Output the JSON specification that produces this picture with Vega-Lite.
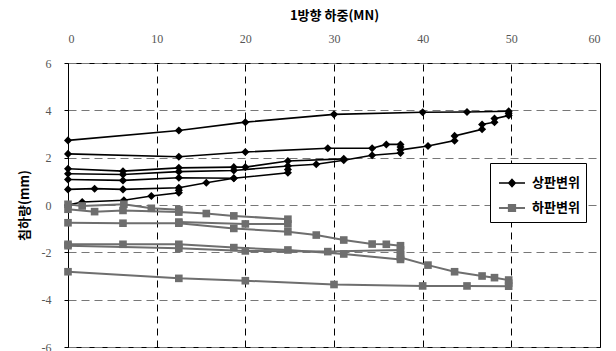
{
  "$schema": "https://vega.github.io/schema/vega-lite/v6.json",
  "autosize": "none",
  "width": 532,
  "height": 284,
  "padding": {"left": 68, "top": 63, "right": 16, "bottom": 4},
  "background": "white",
  "config": {
    "view": {"stroke": "black", "strokeWidth": 1},
    "axis": {"domainColor": "black", "tickColor": "black", "tickSize": 4}
  },
  "data": {"values": [
    {"s":"상판변위","g":"U1","i":1,"x":0,"y":0},
    {"s":"상판변위","g":"U1","i":2,"x":1.6,"y":0.13},
    {"s":"상판변위","g":"U1","i":3,"x":6.3,"y":0.2},
    {"s":"상판변위","g":"U1","i":4,"x":9.4,"y":0.38},
    {"s":"상판변위","g":"U1","i":5,"x":12.5,"y":0.52},
    {"s":"상판변위","g":"U1","i":6,"x":12.5,"y":0.62},
    {"s":"상판변위","g":"U2","i":7,"x":0,"y":0.66},
    {"s":"상판변위","g":"U2","i":8,"x":3.0,"y":0.69},
    {"s":"상판변위","g":"U2","i":9,"x":6.2,"y":0.66},
    {"s":"상판변위","g":"U2","i":10,"x":12.5,"y":0.73},
    {"s":"상판변위","g":"U2","i":11,"x":15.6,"y":0.94},
    {"s":"상판변위","g":"U2","i":12,"x":18.7,"y":1.13},
    {"s":"상판변위","g":"U2","i":13,"x":24.8,"y":1.36},
    {"s":"상판변위","g":"U2","i":14,"x":24.8,"y":1.5},
    {"s":"상판변위","g":"U3","i":15,"x":0,"y":1.08},
    {"s":"상판변위","g":"U3","i":16,"x":6.2,"y":1.04},
    {"s":"상판변위","g":"U3","i":17,"x":12.5,"y":1.15},
    {"s":"상판변위","g":"U3","i":18,"x":18.7,"y":1.13},
    {"s":"상판변위","g":"U4","i":19,"x":0,"y":1.32},
    {"s":"상판변위","g":"U4","i":20,"x":6.2,"y":1.29},
    {"s":"상판변위","g":"U4","i":21,"x":12.5,"y":1.41},
    {"s":"상판변위","g":"U4","i":22,"x":18.7,"y":1.46},
    {"s":"상판변위","g":"U4","i":23,"x":24.8,"y":1.65},
    {"s":"상판변위","g":"U4","i":24,"x":28.0,"y":1.72},
    {"s":"상판변위","g":"U4","i":25,"x":31.1,"y":1.89},
    {"s":"상판변위","g":"U4","i":26,"x":34.3,"y":2.1},
    {"s":"상판변위","g":"U4","i":27,"x":37.5,"y":2.2},
    {"s":"상판변위","g":"U5","i":28,"x":0,"y":1.53},
    {"s":"상판변위","g":"U5","i":29,"x":6.2,"y":1.43},
    {"s":"상판변위","g":"U5","i":30,"x":12.5,"y":1.57},
    {"s":"상판변위","g":"U5","i":31,"x":18.7,"y":1.6},
    {"s":"상판변위","g":"U5","i":32,"x":20,"y":1.6},
    {"s":"상판변위","g":"U5","i":33,"x":24.8,"y":1.86},
    {"s":"상판변위","g":"U5","i":34,"x":31.1,"y":1.95},
    {"s":"상판변위","g":"U6","i":35,"x":0,"y":2.16},
    {"s":"상판변위","g":"U6","i":36,"x":12.5,"y":2.04},
    {"s":"상판변위","g":"U6","i":37,"x":20,"y":2.24},
    {"s":"상판변위","g":"U6","i":38,"x":29.3,"y":2.4},
    {"s":"상판변위","g":"U6","i":39,"x":34.3,"y":2.4},
    {"s":"상판변위","g":"U6","i":40,"x":35.9,"y":2.56},
    {"s":"상판변위","g":"U6","i":41,"x":37.5,"y":2.56},
    {"s":"상판변위","g":"U6","i":42,"x":37.5,"y":2.45},
    {"s":"상판변위","g":"U7","i":43,"x":37.5,"y":2.33},
    {"s":"상판변위","g":"U7","i":44,"x":40.6,"y":2.49},
    {"s":"상판변위","g":"U7","i":45,"x":43.6,"y":2.72},
    {"s":"상판변위","g":"U7","i":46,"x":43.6,"y":2.92},
    {"s":"상판변위","g":"U7","i":47,"x":46.7,"y":3.2},
    {"s":"상판변위","g":"U7","i":48,"x":46.7,"y":3.4},
    {"s":"상판변위","g":"U7","i":49,"x":48.1,"y":3.5},
    {"s":"상판변위","g":"U7","i":50,"x":48.1,"y":3.65},
    {"s":"상판변위","g":"U7","i":51,"x":49.7,"y":3.78},
    {"s":"상판변위","g":"U7","i":52,"x":49.7,"y":3.88},
    {"s":"상판변위","g":"U8","i":53,"x":49.7,"y":3.96},
    {"s":"상판변위","g":"U8","i":54,"x":45,"y":3.93},
    {"s":"상판변위","g":"U8","i":55,"x":40,"y":3.92},
    {"s":"상판변위","g":"U8","i":56,"x":30,"y":3.83},
    {"s":"상판변위","g":"U8","i":57,"x":20,"y":3.5},
    {"s":"상판변위","g":"U8","i":58,"x":12.5,"y":3.15},
    {"s":"상판변위","g":"U8","i":59,"x":0,"y":2.73},
    {"s":"하판변위","g":"L1","i":1,"x":0,"y":0.03},
    {"s":"하판변위","g":"L1","i":2,"x":1.6,"y":-0.04},
    {"s":"하판변위","g":"L1","i":3,"x":6.3,"y":0.03},
    {"s":"하판변위","g":"L1","i":4,"x":9.4,"y":-0.14},
    {"s":"하판변위","g":"L1","i":5,"x":12.5,"y":-0.2},
    {"s":"하판변위","g":"L2","i":6,"x":0,"y":-0.18},
    {"s":"하판변위","g":"L2","i":7,"x":3.0,"y":-0.28},
    {"s":"하판변위","g":"L2","i":8,"x":6.2,"y":-0.23},
    {"s":"하판변위","g":"L2","i":9,"x":12.5,"y":-0.3},
    {"s":"하판변위","g":"L2","i":10,"x":15.6,"y":-0.36},
    {"s":"하판변위","g":"L2","i":11,"x":18.7,"y":-0.46},
    {"s":"하판변위","g":"L2","i":12,"x":24.8,"y":-0.6},
    {"s":"하판변위","g":"L3b","i":13,"x":12.5,"y":-0.72},
    {"s":"하판변위","g":"L3b","i":14,"x":20,"y":-0.8},
    {"s":"하판변위","g":"L3b","i":15,"x":24.8,"y":-0.8},
    {"s":"하판변위","g":"L3","i":16,"x":0,"y":-0.75},
    {"s":"하판변위","g":"L3","i":17,"x":6.2,"y":-0.77},
    {"s":"하판변위","g":"L3","i":18,"x":12.5,"y":-0.77},
    {"s":"하판변위","g":"L3","i":19,"x":18.7,"y":-0.99},
    {"s":"하판변위","g":"L3","i":20,"x":24.8,"y":-1.13},
    {"s":"하판변위","g":"L3","i":21,"x":28.0,"y":-1.27},
    {"s":"하판변위","g":"L3","i":22,"x":31.1,"y":-1.48},
    {"s":"하판변위","g":"L3","i":23,"x":34.3,"y":-1.65},
    {"s":"하판변위","g":"L3","i":24,"x":35.9,"y":-1.66},
    {"s":"하판변위","g":"L3","i":25,"x":37.5,"y":-1.72},
    {"s":"하판변위","g":"L5","i":26,"x":0,"y":-1.66},
    {"s":"하판변위","g":"L5","i":27,"x":6.2,"y":-1.66},
    {"s":"하판변위","g":"L5","i":28,"x":12.5,"y":-1.66},
    {"s":"하판변위","g":"L5","i":29,"x":18.7,"y":-1.8},
    {"s":"하판변위","g":"L5","i":30,"x":24.8,"y":-1.9},
    {"s":"하판변위","g":"L5","i":31,"x":31.1,"y":-2.07},
    {"s":"하판변위","g":"L5","i":32,"x":37.5,"y":-2.3},
    {"s":"하판변위","g":"L6","i":33,"x":0,"y":-1.72},
    {"s":"하판변위","g":"L6","i":34,"x":12.5,"y":-1.83},
    {"s":"하판변위","g":"L6","i":35,"x":20,"y":-1.94},
    {"s":"하판변위","g":"L6","i":36,"x":29.3,"y":-1.97},
    {"s":"하판변위","g":"L6","i":37,"x":37.5,"y":-1.9},
    {"s":"하판변위","g":"L6","i":38,"x":37.5,"y":-2.1},
    {"s":"하판변위","g":"L7","i":39,"x":37.5,"y":-2.22},
    {"s":"하판변위","g":"L7","i":40,"x":40.6,"y":-2.54},
    {"s":"하판변위","g":"L7","i":41,"x":43.6,"y":-2.82},
    {"s":"하판변위","g":"L7","i":42,"x":46.7,"y":-3.0},
    {"s":"하판변위","g":"L7","i":43,"x":48.1,"y":-3.07},
    {"s":"하판변위","g":"L7","i":44,"x":49.7,"y":-3.17},
    {"s":"하판변위","g":"L7","i":45,"x":49.7,"y":-3.3},
    {"s":"하판변위","g":"L8","i":46,"x":49.7,"y":-3.43},
    {"s":"하판변위","g":"L8","i":47,"x":45,"y":-3.42},
    {"s":"하판변위","g":"L8","i":48,"x":40,"y":-3.42},
    {"s":"하판변위","g":"L8","i":49,"x":30,"y":-3.36},
    {"s":"하판변위","g":"L8","i":50,"x":20,"y":-3.2},
    {"s":"하판변위","g":"L8","i":51,"x":12.5,"y":-3.1},
    {"s":"하판변위","g":"L8","i":52,"x":0,"y":-2.82}
  ]},
  "encoding": {
    "x": {"field": "x", "type": "quantitative", "scale": {"domain": [0, 60], "nice": false, "zero": false},
      "axis": {"orient": "top", "title": "1방향 하중(MN)", "values": [0,10,20,30,40,50,60], "grid": true, "gridColor": "black", "gridDash": [7,5], "gridWidth": 1, "domain": false, "ticks": false, "labelPadding": 18, "titlePadding": 10,
        "labelFont": "Liberation Serif", "labelFontSize": 12, "labelColor": "#555", "titleFont": "Noto Sans CJK KR", "titleFontSize": 13, "titleFontWeight": "bold", "titleColor": "black"}},
    "y": {"field": "y", "type": "quantitative", "scale": {"domain": [-6, 6], "nice": false},
      "axis": {"title": "침하량(mm)", "values": [-6,-4,-2,0,2,4,6], "grid": true, "gridColor": "#777", "gridDash": [8,5], "gridWidth": 1.2, "labelPadding": 13, "titlePadding": 10, "labelExpr": "datum.value < 0 ? '-' + abs(datum.value) : '' + datum.value",
        "labelFont": "Liberation Serif", "labelFontSize": 12, "labelColor": "#555", "titleFont": "Noto Sans CJK KR", "titleFontSize": 13, "titleFontWeight": "bold", "titleColor": "black"}},
    "color": {"field": "s", "type": "nominal", "scale": {"domain": ["상판변위","하판변위"], "range": ["black", "#6e6e6e"]},
      "legend": {"orient": "none", "legendX": 422, "legendY": 100, "title": null, "strokeColor": "black", "fillColor": "white", "padding": 6, "symbolSize": 676, "symbolOffset": 2, "labelFont": "Noto Sans CJK KR", "labelFontSize": 13, "labelFontWeight": "bold", "labelColor": "black", "labelOffset": 6, "rowPadding": 4, "symbolStrokeWidth": 1.5,
        "encode": {"symbols": {"update": {
          "shape": {"signal": "datum.value === '상판변위' ? 'M-1,0H1M0,-0.27L0.25,0L0,0.27L-0.25,0Z' : 'M-1,0H1M-0.24,-0.24H0.24V0.24H-0.24Z'"},
          "stroke": {"signal": "datum.value === '상판변위' ? 'black' : '#6e6e6e'"},
          "fill": {"signal": "datum.value === '상판변위' ? 'black' : '#666666'"},
          "strokeWidth": {"value": 1.5},
          "opacity": {"value": 1}
        }}}}}
  },
  "layer": [
    {
      "mark": {"type": "line", "interpolate": "linear"},
      "encoding": {
        "detail": {"field": "g"},
        "order": {"field": "i", "type": "quantitative"},
        "strokeWidth": {"field": "s", "type": "nominal", "scale": {"domain": ["상판변위","하판변위"], "range": [1.6, 2]}, "legend": null}
      }
    },
    {
      "transform": [{"filter": "datum.s === '상판변위'"}],
      "mark": {"type": "point", "filled": true, "opacity": 1, "size": 65, "shape": "diamond"}
    },
    {
      "transform": [{"filter": "datum.s === '하판변위'"}],
      "mark": {"type": "point", "filled": true, "opacity": 1, "size": 58, "shape": "square"}
    }
  ]
}
